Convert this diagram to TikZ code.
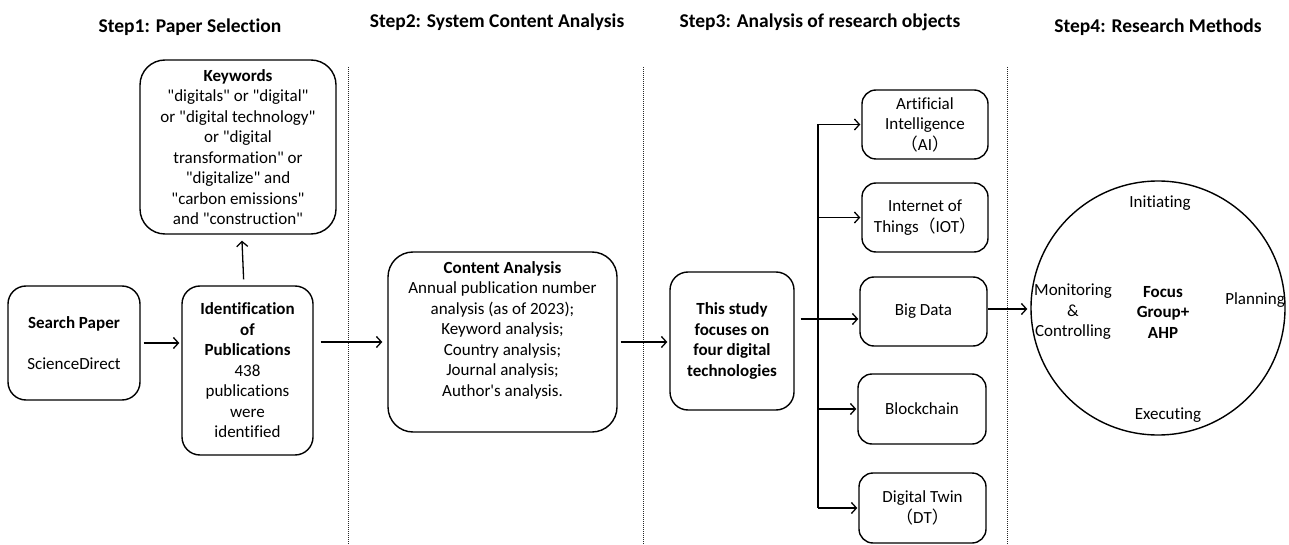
\documentclass[tikz,border=0pt]{standalone}
\usepackage{fontspec}
\setmainfont{Carlito}[Ligatures={TeXOff,NoCommon}]
\newfontfamily\cjk{Noto Sans CJK SC}
\usetikzlibrary{arrows.meta}

\begin{document}
\begin{tikzpicture}[x=1pt,y=-1pt,
  box/.style={draw, line width=1.4pt, rounded corners=18pt, align=center,
    inner sep=0pt, font=\fontsize{17}{20.5}\selectfont},
  txt/.style={align=center, inner sep=0pt, font=\fontsize{17}{20.5}\selectfont},
  steptitle/.style={inner sep=0pt, font=\fontsize{19.5}{23}\selectfont\bfseries},
  arr/.style={line width=1.3pt, -{Straight Barb[length=5pt,width=11pt,line width=1.3pt]}},
  conn/.style={line width=1.3pt},
  divider/.style={densely dotted, line width=1pt, black!85}]

\useasboundingbox (0,0) rectangle (1289,545);

% column titles
\node[steptitle] (t1) at (190,27) {Step1: Paper Selection};
\node[steptitle] (t2) at (497,22) {Step2: System Content Analysis};
\node[steptitle] (t3) at (820,22) {Step3: Analysis of research objects};
\node[steptitle] (t4) at (1158,27) {Step4: Research Methods};

% column dividers
\coordinate (d1a) at (348,67); \coordinate (d1b) at (348,545);
\coordinate (d2a) at (643,67); \coordinate (d2b) at (643,545);
\coordinate (d3a) at (1007,67); \coordinate (d3b) at (1007,545);
\draw[divider] (d1a) -- (d1b);
\draw[divider] (d2a) -- (d2b);
\draw[divider] (d3a) -- (d3b);

% step 1
\node[box, rounded corners=25pt, minimum width=196pt, minimum height=174pt] (kw) at (238,147)
  {\textbf{Keywords}\\"digitals" or "digital"\\or "digital technology"\\or "digital\\transformation" or\\"digitalize" and\\"carbon emissions"\\and "construction"};
\node[box, minimum width=132pt, minimum height=114pt] (search) at (74,343)
  {\textbf{Search Paper}\\\strut\\ScienceDirect};
\node[box, minimum width=131pt, minimum height=169pt] (ident) at (247.5,370.5)
  {\textbf{Identification}\\\textbf{of}\\\textbf{Publications}\\438\\publications\\were\\identified};

% step 2
\node[box, rounded corners=25pt, minimum width=229pt, minimum height=180pt] (content) at (502.5,342)
  {\textbf{Content Analysis}\\Annual publication number\\analysis (as of 2023);\\Keyword analysis;\\Country analysis;\\Journal analysis;\\Author's analysis.\\\strut};

% step 3
\node[box, minimum width=124pt, minimum height=138pt] (study) at (732,341)
  {\textbf{This study}\\\textbf{focuses on}\\\textbf{four digital}\\\textbf{technologies}};
\node[box, rounded corners=14pt, minimum width=126pt, minimum height=69pt] (ai) at (925,124.5)
  {Artificial\\Intelligence\\{\cjk （}AI{\cjk ）}};
\node[box, rounded corners=14pt, minimum width=126pt, minimum height=69pt] (iot) at (925,217.5)
  {Internet of\\Things{\cjk （}IOT{\cjk ）}};
\node[box, rounded corners=14pt, minimum width=127pt, minimum height=69pt] (bd) at (923.5,311.5)
  {Big Data};
\node[box, rounded corners=14pt, minimum width=128pt, minimum height=70pt] (bc) at (922,409)
  {Blockchain};
\node[box, rounded corners=14pt, minimum width=127pt, minimum height=70pt] (dt) at (922.5,508)
  {Digital Twin\\{\cjk （}DT{\cjk ）}};

% step 4
\node[draw, circle, line width=1.4pt, minimum size=254pt, inner sep=0pt] (cyc) at (1158,308) {};
\node[txt] (foc) at (1163,312) {\textbf{Focus}\\\textbf{Group+}\\\textbf{AHP}};
\node[txt] (ini) at (1160,203) {Initiating};
\node[txt] (pla) at (1255,300) {Planning};
\node[txt] (exe) at (1168,415) {Executing};
\node[txt] (mon) at (1073,312) {Monitoring\\\&\\Controlling};

% connectors
\draw[arr, shorten <=3pt, shorten >=2pt] (search.east) -- (ident.west |- search.east);
\draw[arr, shorten <=6pt, shorten >=6pt] (ident) -- (kw);
\draw[arr, shorten <=7pt, shorten >=5pt] (ident.east |- content.west) -- (content.west);
\draw[arr, shorten <=3pt, shorten >=2pt] (content.east) -- (study.west |- content.east);

\coordinate (split) at (818,319);
\draw[conn, shorten <=6pt] (split -| study.east) -- (split);
\draw[conn] (split |- ai) -- (split |- dt);
\draw[arr, shorten >=1pt] (split |- ai) -- (ai);
\draw[arr, shorten >=1pt] (split |- iot) -- (iot);
\draw[arr, shorten >=1pt] (split) -- (split -| bd.west);
\draw[arr, shorten >=1pt] (split |- bc) -- (bc);
\draw[arr, shorten >=1pt] (split |- dt) -- (dt);

\coordinate (bdout) at (988,309);
\draw[arr, shorten >=3pt] (bdout) -- (bdout -| cyc.west);

\end{tikzpicture}
\end{document}
